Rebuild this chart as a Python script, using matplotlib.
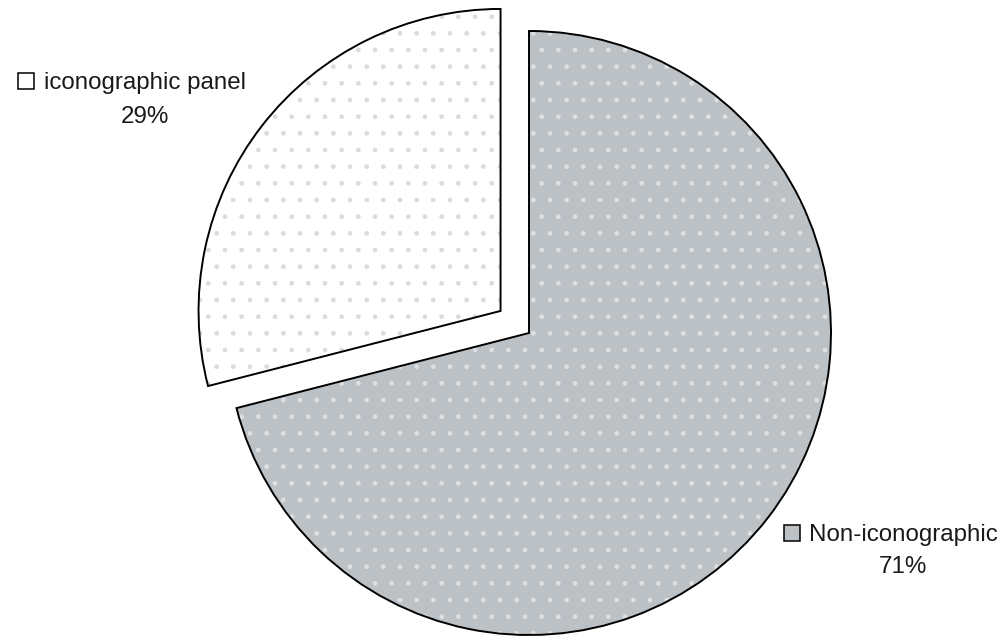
import matplotlib.pyplot as plt

# data
labels = ["Non-iconographic", "iconographic panel"]
shares = [71, 29]
explode = [0, 36]  # pie explode is in data units here (pixels)
colors = ["#bcc1c6", "#ffffff"]
dot_colors = ["#dde0e3", "#dcdcdc"]

W, H = 1005, 636
fig = plt.figure(figsize=(W / 100, H / 100), dpi=100)
ax = fig.add_axes([0, 0, 1, 1])

center = (529, H - 333)
radius = 302
common = dict(explode=explode, startangle=90, counterclock=False,
              center=center, radius=radius, frame=True)

# filled slices
fills, _ = ax.pie(shares, colors=colors,
                  wedgeprops=dict(linewidth=0), **common)

# dotted texture
dots, _ = ax.pie(shares, wedgeprops=dict(facecolor="none", linewidth=0), **common)
for w, c in zip(dots, dot_colors):
    w.set_hatch(".")
    w.set_edgecolor(c)
    w.set_linewidth(0)

# outlines on top
edges, _ = ax.pie(shares, wedgeprops=dict(facecolor="none", edgecolor="black",
                                          linewidth=1.4), **common)
for w in fills:
    w.set_zorder(1)
for w in dots:
    w.set_zorder(2)
for w in edges:
    w.set_zorder(3)

ax.set_xlim(0, W)
ax.set_ylim(0, H)
ax.set_aspect("auto")
ax.axis("off")

font = dict(family=["Liberation Sans", "DejaVu Sans"], fontsize=17.4, color="#1a1a1a")

# label: iconographic panel
ax.plot(26, H - 81, marker="s", markersize=11.5, markerfacecolor="white",
        markeredgecolor="black", markeredgewidth=1.1, zorder=5)
ax.text(145, H - 89, labels[1], ha="center", va="baseline", **font)
ax.text(145, H - 123, f"{shares[1]}%", ha="center", va="baseline", **font)

# label: Non-iconographic
ax.plot(792, H - 533, marker="s", markersize=11.5, markerfacecolor=colors[0],
        markeredgecolor="black", markeredgewidth=1.1, zorder=5)
ax.text(903, H - 541, labels[0], ha="center", va="baseline", **font)
ax.text(903, H - 573, f"{shares[0]}%", ha="center", va="baseline", **font)

fig.savefig("out.png", dpi=100)
